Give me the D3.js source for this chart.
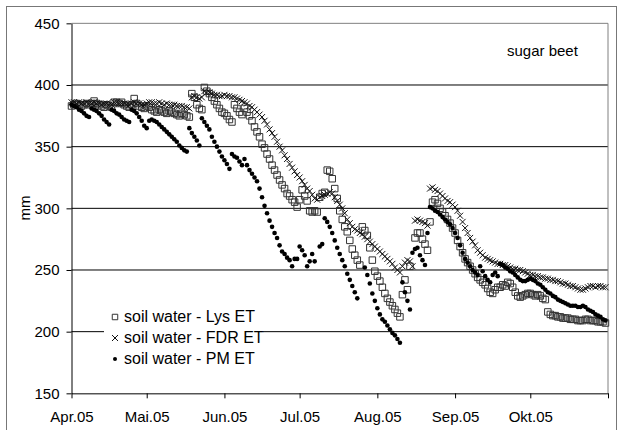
<!DOCTYPE html>
<html>

<head>
    <meta charset="utf-8">
    <title>soil water - sugar beet</title>
    <script src="https://cdn.jsdelivr.net/npm/d3@7"></script>
    <style>
        body {
            margin: 0;
            background: #fff;
        }

        svg text {
            font-family: Arial, "Liberation Sans", sans-serif;
        }
    </style>
</head>

<body>
    <svg width="620" height="430" id="mainsvg"></svg>
    <script>
        // daily values starting 1 April 2005, one row per month (Apr..Okt), null = no value
        const startDay = new Date(2005, 3, 1);
        const endDay = new Date(2005, 10, 1);

        const lysET = [
            383, 384, 385, 384, 383, 384, 385, 384, 385, 387, 385, 384, 383, 382, 384, 383, 382, 386, 386, 385, 386, 384, 383, 382, 384, 389, 385, 383, 382, 381,
            383, 382, 380, 379, 378, 380, 379, 378, 377, 379, 378, 377, 376, 375, 377, 376, 375, 374, 393, 390, 384, 381, 380, 398, 395, 393, 390, 387, 384, 381, 378,
            377, 375, 372, 370, 384, 381, 378, 376, 381, 378, 375, 371, 366, 362, 358, 352, 349, 344, 340, 335, 331, 327, 323, 319, 316, 312, 310, 307, 305, 301,
            307, 315, 310, 306, 298, 297, 298, 297, 309, 312, 313, 331, 330, 324, 316, 308, 298, 291, 285, 281, 274, 267, 262, 258, 254, 285, 282, 278, 268, 258, 249,
            245, 241, 236, 231, 227, 224, 221, 218, 215, 212, 230, 242, 234, 253, null, 276, 280, 280, 275, 271, 266, 289, 305, 307, 304, 300, 297, 294, 291, 288, 284,
            280, 274, 269, 264, 259, 256, 253, 250, 247, 244, 242, 240, 238, 235, 232, 231, 234, 236, 236, 238, 237, 240, 239, 236, 232, 229, 228, 229, 230, 231,
            231, 230, 229, 230, 229, 227, 226, 216, 214, 213, 213, 212, 212, 211, 211, 211, 210, 210, 210, 209, 209, 209, 210, 210, 209, 209, 209, 208, 208, 208, 207
        ];

        const fdrET = [
            386, 386, 385, 386, 385, 385, 386, 385, 385, 386, 385, 385, 384, 385, 385, 384, 384, 386, 386, 385, 385, 385, 384, 384, 385, 386, 385, 385, 384, 384,
            385, 386, 386, 385, 385, 386, 385, 384, 385, 384, 384, 384, 383, 383, 383, 382, 382, 381, 390, 391, 390, 389, 390, 395, 394, 394, 393, 392, 392, 391, 391,
            392, 391, 391, 390, 390, 389, 388, 387, 386, 385, 383, 382, 380, 378, 376, 374, 371, 368, 364, 361, 358, 354, 350, 347, 343, 340, 336, 333, 330, 327,
            325, 322, 319, 316, 314, 311, 308, 307, 309, 310, 311, 312, 313, 312, 309, 306, 303, 300, 296, 291, 288, 285, 283, 282, 280, 279, 277, 275, 273, 271, 269,
            267, 265, 263, 261, 259, 257, 255, 252, 250, 248, 253, 256, 258, 257, 253, 290, 291, 290, 289, 288, 286, 316, 317, 315, 314, 312, 310, 308, 306, 305, 303,
            301, 298, 294, 289, 284, 280, 276, 273, 270, 266, 264, 262, 260, 259, 258, 257, 256, 255, 255, 254, 254, 253, 252, 251, 251, 250, 250, 249, 248, 247,
            246, 246, 245, 245, 244, 244, 243, 243, 242, 242, 241, 241, 240, 239, 239, 238, 237, 237, 236, 235, 234, 234, 235, 236, 237, 237, 236, 237, 237, 236, 236
        ];

        const pmET = [
            384, 383, 382, 380, 379, 377, 375, 374, 381, 380, 379, 377, 375, 372, 370, 368, 380, 379, 377, 376, 374, 372, 371, 370, 380, 379, 377, 374, 371, 367,
            365, 371, 372, 371, 370, 368, 366, 364, 362, 360, 358, 356, 354, 351, 349, 347, 346, 365, 361, 358, 355, 351, 373, 370, 367, 364, 358, 354, 350, 346, 342,
            339, 336, 332, 344, 342, 341, 338, 335, 340, 335, 331, 328, 325, 322, 316, 309, 302, 296, 290, 285, 280, 276, 270, 265, 263, 260, 258, 253, 259, 259,
            269, 266, 262, 253, 257, 263, 257, null, 269, 271, 292, 289, 285, 280, 274, 268, 263, 258, 253, 247, 242, 237, 232, 227, null, null, 252, 246, 239, 231, 225,
            219, 214, 210, 208, 205, 202, 199, 197, 194, 191, 240, 232, 225, 218, 264, 267, 268, 262, 258, 254, 280, 301, 300, 298, 297, 295, 293, 291, 289, 287, 284,
            280, 276, 270, 264, 259, 256, 253, 250, 248, 246, 253, 249, 245, 242, 240, 246, 248, 245, 255, 254, 252, 251, 249, 248, 246, 244, 242, 241, 241, 242,
            243, 242, 241, 239, 238, 236, 234, 232, 231, 229, 228, 226, 225, 224, 223, 222, 221, 221, 221, 220, 220, 221, 220, 218, 217, 216, 214, 213, 212, 210, 209
        ];

        const seriesNames = ['soil water - Lys ET', 'soil water - FDR ET', 'soil water - PM ET'];
        const monthTicks = ['2005-04-01', '2005-05-01', '2005-06-01', '2005-07-01', '2005-08-01', '2005-09-01', '2005-10-01', '2005-11-01'];
        const monthLabels = ['Apr.05', 'Mai.05', 'Jun.05', 'Jul.05', 'Aug.05', 'Sep.05', 'Okt.05', ''];
        const yTicks = [150, 200, 250, 300, 350, 400, 450];
        const cropLabel = 'sugar beet';
        const yLabel = 'mm';

        const svg = d3.select('svg');
        const plot = { left: 71.5, right: 608, top: 23.33, bottom: 393.33 };

        const parseDay = d3.timeParse('%Y-%m-%d');
        const xScale = d3.scaleTime().domain([startDay, endDay]).range([plot.left, plot.right]);
        const yScale = d3.scaleLinear().domain([150, 450]).range([plot.bottom, plot.top]);

        const toPoints = arr => arr
            .map((v, i) => ({ date: d3.timeDay.offset(startDay, i), value: v }))
            .filter(d => d.value !== null);

        // outer frame of the chart
        svg.append('rect').attr('x', 6.5).attr('y', 6.5).attr('width', 610).attr('height', 440)
            .attr('fill', 'none').attr('stroke', '#777');

        // horizontal gridlines
        svg.append('g').selectAll('line').data(yTicks.filter(d => d > 150 && d < 450)).join('line')
            .attr('x1', plot.left).attr('x2', plot.right)
            .attr('y1', d => yScale(d)).attr('y2', d => yScale(d))
            .attr('stroke', '#000').attr('stroke-width', 1);

        // plot area border (top and right)
        svg.append('path')
            .attr('d', `M${plot.left},${yScale(450)}H${plot.right}V${plot.bottom}`)
            .attr('fill', 'none').attr('stroke', '#808080');

        // axes
        const yAxis = d3.axisLeft(yScale).tickValues(yTicks).tickSize(5).tickSizeOuter(0).tickPadding(7);
        const yAxisGroup = svg.append('g').attr('transform', `translate(${plot.left},0)`).call(yAxis);

        const xAxis = d3.axisBottom(xScale).tickValues(monthTicks.map(parseDay))
            .tickFormat((d, i) => monthLabels[i]).tickSize(5).tickSizeOuter(0).tickPadding(13);
        const xAxisGroup = svg.append('g').attr('transform', `translate(0,${plot.bottom})`).call(xAxis);

        svg.selectAll('.tick text').attr('font-size', 15).attr('fill', '#000')
            .attr('font-family', 'Arial, "Liberation Sans", sans-serif');
        svg.selectAll('.domain, .tick line').attr('stroke', '#000');

        svg.append('text').text(yLabel)
            .attr('transform', 'translate(29.5,208) rotate(-90)')
            .attr('text-anchor', 'middle').attr('font-size', 15);

        svg.append('text').text(cropLabel).attr('x', 507).attr('y', 56).attr('font-size', 15);

        // markers
        const squarePath = d3.symbol().type(d3.symbolSquare).size(42)();
        const crossPath = 'M-3,-3L3,3M-3,3L3,-3';

        svg.append('g').selectAll('path').data(toPoints(lysET)).join('path')
            .attr('d', squarePath)
            .attr('transform', d => `translate(${xScale(d.date)},${yScale(d.value)})`)
            .attr('fill', 'none').attr('stroke', '#333').attr('stroke-width', 1);

        svg.append('g').selectAll('path').data(toPoints(fdrET)).join('path')
            .attr('d', crossPath)
            .attr('transform', d => `translate(${xScale(d.date)},${yScale(d.value)})`)
            .attr('fill', 'none').attr('stroke', '#111').attr('stroke-width', 1);

        svg.append('g').selectAll('circle').data(toPoints(pmET)).join('circle')
            .attr('cx', d => xScale(d.date)).attr('cy', d => yScale(d.value))
            .attr('r', 2.3).attr('fill', '#000');

        // legend
        const legend = svg.append('g');
        legend.append('rect').attr('x', 104).attr('y', 304).attr('width', 159).attr('height', 66).attr('fill', '#fff');
        const rowY = [322, 343, 364];
        const lg = legend.selectAll('g').data(seriesNames).join('g')
            .attr('transform', (d, i) => `translate(115,${rowY[i]})`);
        lg.append('text').text(d => d).attr('x', 9).attr('font-size', 16).attr('fill', '#000');
        lg.filter((d, i) => i === 0).append('path')
            .attr('d', d3.symbol().type(d3.symbolSquare).size(30)())
            .attr('transform', 'translate(0,-5)').attr('fill', 'none').attr('stroke', '#333');
        lg.filter((d, i) => i === 1).append('path')
            .attr('d', 'M-3,-3L3,3M-3,3L3,-3')
            .attr('transform', 'translate(0,-5)').attr('fill', 'none').attr('stroke', '#111');
        lg.filter((d, i) => i === 2).append('circle')
            .attr('cx', 0).attr('cy', -5).attr('r', 2).attr('fill', '#000');
    </script>
</body>

</html>
